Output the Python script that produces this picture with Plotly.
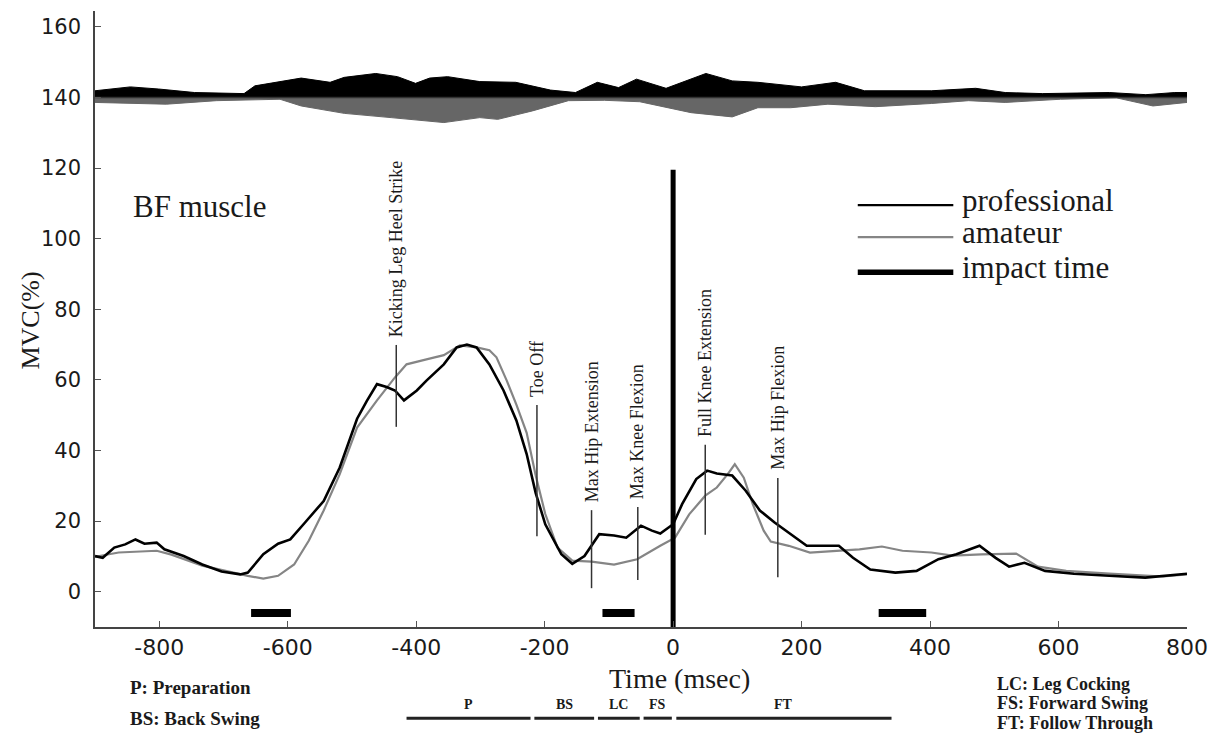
import plotly.graph_objects as go

# ---------------- data ----------------
TIME_PRO = [-900, -888, -870, -853, -837, -823, -804, -792, -762, -733,
            -703, -674, -662, -638, -615, -596, -573, -544, -519, -492,
            -477, -461, -446, -433, -419, -399, -384, -357, -337, -321,
            -306, -286, -264, -244, -228, -214, -199, -174, -157, -138,
            -115, -92, -73, -50, -33, -20, 0, 14, 36, 53,
            68, 92, 113, 135, 158, 180, 208, 236, 258, 280,
            307, 346, 379, 413, 441, 477, 502, 523, 547, 579,
            624, 679, 735, 800]
MVC_PRO = [10.1, 9.6, 12.5, 13.4, 14.8, 13.6, 13.9, 12.0, 10.1, 7.7,
           5.7, 4.9, 5.4, 10.6, 13.6, 14.8, 19.6, 25.7, 35.2, 49.0,
           54.0, 58.8, 58.0, 57.0, 54.2, 57.0, 59.8, 64.4, 69.2, 70.0,
           69.2, 64.4, 57.0, 48.5, 39.0, 28.0, 19.1, 10.6, 7.9, 10.1,
           16.3, 15.9, 15.3, 18.7, 17.3, 16.5, 19.1, 24.8, 31.9, 34.3,
           33.5, 32.9, 28.6, 23.0, 19.6, 16.7, 13.0, 13.0, 13.0, 9.6,
           6.3, 5.4, 5.9, 9.2, 10.6, 13.0, 9.6, 7.1, 8.2, 5.9,
           5.1, 4.5, 4.0, 5.1]

TIME_AM = [-900, -863, -804, -781, -733, -686, -662, -638, -615, -590,
           -567, -544, -519, -492, -461, -433, -415, -384, -357, -332,
           -306, -286, -275, -259, -244, -228, -214, -199, -180, -157,
           -127, -92, -56, -20, 3, 25, 50, 68, 85, 96,
           110, 124, 141, 152, 180, 213, 258, 290, 325, 357,
           402, 435, 480, 534, 568, 612, 679, 763, 800]
MVC_AM = [9.9, 11.1, 11.6, 10.5, 7.4, 5.4, 4.5, 3.7, 4.5, 7.7,
          14.5, 23.0, 33.3, 46.5, 54.2, 60.7, 64.4, 65.8, 67.0, 69.8,
          69.2, 68.4, 66.4, 59.8, 53.0, 45.0, 33.0, 22.0, 12.5, 8.8,
          8.5, 7.7, 9.2, 13.0, 15.3, 21.9, 27.2, 29.5, 33.3, 36.1,
          32.3, 24.8, 17.3, 14.2, 13.0, 11.1, 11.6, 12.0, 12.8, 11.6,
          11.1, 10.2, 10.6, 10.8, 7.1, 5.9, 5.1, 4.3, 4.9]

# band at the top (upper = black, lower = grey), around a base of 140
BAND_BASE = 140
BAND_UP_T = [-900, -845, -801, -745, -668, -651, -579, -534, -512, -463,
             -429, -401, -379, -351, -301, -245, -191, -152, -118, -85,
             -57, -11, 51, 92, 132, 200, 253, 298, 402, 471,
             517, 575, 679, 736, 781, 800]
BAND_UP = [141.9, 143.0, 142.4, 141.4, 141.1, 143.3, 145.5, 144.3, 145.7, 146.8,
           145.9, 144.0, 145.5, 145.9, 144.5, 144.3, 142.1, 141.4, 144.3, 142.8,
           145.2, 142.6, 146.8, 144.7, 144.3, 143.0, 144.3, 141.9, 141.9, 142.6,
           141.4, 141.1, 141.4, 140.8, 141.4, 141.4]
BAND_LO_T = [-900, -789, -711, -612, -579, -512, -439, -357, -301, -273,
             -219, -163, -107, -52, 28, 92, 132, 183, 241, 315,
             402, 460, 517, 603, 690, 747, 800]
BAND_LO = [138.6, 138.1, 139.1, 139.5, 137.6, 135.5, 134.3, 132.9, 134.3, 133.8,
           136.2, 139.1, 139.2, 138.8, 135.7, 134.5, 137.1, 137.1, 138.1, 137.4,
           138.3, 139.1, 138.6, 139.5, 139.9, 137.6, 138.6]

# gait events (vertical markers)
EVENT_NAMES = ["Kicking Leg Heel Strike", "Toe Off", "Max Hip Extension",
               "Max Knee Flexion", "Full Knee Extension", "Max Hip Flexion"]
EVENT_TIME = [-431, -212, -127, -55, 50, 163]
EVENT_TOP = [69.9, 52.9, 23.1, 24.0, 41.6, 32.2]
EVENT_BOTTOM = [46.7, 15.7, 1.0, 3.3, 16.1, 4.1]

IMPACT_TIME = 0
IMPACT_TOP = 119.5

# black bars near the x axis
BAR_LEVEL = -6
BAR_START = [-657, -110, 320]
BAR_END = [-595, -60, 394]

# phases below the axis
PHASE_NAMES = ["P", "BS", "LC", "FS", "FT"]
PHASE_START = [-415, -216, -117, -46, 5]
PHASE_END = [-222, -123, -52, -2, 340]

X_TICKS = [-800, -600, -400, -200, 0, 200, 400, 600, 800]
Y_TICKS = [0, 20, 40, 60, 80, 100, 120, 140, 160]
X_RANGE = [-900, 800]
Y_RANGE = [-10, 164.5]

SERIF = "Liberation Serif, Times New Roman, serif"
SANS = "DejaVu Sans, Arial, sans-serif"
INK = "#1a1a1a"

fig = go.Figure()

# ---- top band ----
fig.add_trace(go.Scatter(x=X_RANGE, y=[BAND_BASE, BAND_BASE], mode="lines",
                         line=dict(width=0, color="black"), hoverinfo="skip", showlegend=False))
fig.add_trace(go.Scatter(x=BAND_UP_T, y=BAND_UP, mode="lines", fill="tonexty",
                         fillcolor="black", line=dict(color="black", width=1),
                         hoverinfo="skip", showlegend=False))
fig.add_trace(go.Scatter(x=X_RANGE, y=[BAND_BASE, BAND_BASE], mode="lines",
                         line=dict(width=0, color="black"), hoverinfo="skip", showlegend=False))
fig.add_trace(go.Scatter(x=BAND_LO_T, y=BAND_LO, mode="lines", fill="tonexty",
                         fillcolor="#666666", line=dict(color="#666666", width=1),
                         hoverinfo="skip", showlegend=False))
fig.add_trace(go.Scatter(x=X_RANGE, y=[BAND_BASE, BAND_BASE], mode="lines",
                         line=dict(width=1.5, color="#333333"), hoverinfo="skip", showlegend=False))

# ---- EMG curves ----
fig.add_trace(go.Scatter(x=TIME_AM, y=MVC_AM, mode="lines", name="amateur",
                         line=dict(color="#858585", width=2.2), showlegend=False))
fig.add_trace(go.Scatter(x=TIME_PRO, y=MVC_PRO, mode="lines", name="professional",
                         line=dict(color="black", width=2.6), showlegend=False))

# ---- event markers ----
for name, t, top, bot in zip(EVENT_NAMES, EVENT_TIME, EVENT_TOP, EVENT_BOTTOM):
    fig.add_trace(go.Scatter(x=[t, t], y=[bot, top], mode="lines",
                             line=dict(color="#333333", width=1.5),
                             hoverinfo="skip", showlegend=False))
    fig.add_annotation(x=t, y=top, xref="x", yref="y", text=name, textangle=-90,
                       showarrow=False, xanchor="center", yanchor="bottom", yshift=6,
                       font=dict(family=SERIF, size=18, color=INK))

# ---- impact line ----
fig.add_trace(go.Scatter(x=[IMPACT_TIME, IMPACT_TIME], y=[Y_RANGE[0], IMPACT_TOP], mode="lines",
                         line=dict(color="black", width=5), hoverinfo="skip", showlegend=False))

# ---- black bars ----
for s, e in zip(BAR_START, BAR_END):
    fig.add_trace(go.Scatter(x=[s, e], y=[BAR_LEVEL, BAR_LEVEL], mode="lines",
                             line=dict(color="black", width=8), hoverinfo="skip", showlegend=False))

# ---- phases under the axis ----
for name, s, e in zip(PHASE_NAMES, PHASE_START, PHASE_END):
    fig.add_shape(type="line", xref="x", yref="paper", x0=s, x1=e, y0=-0.148, y1=-0.148,
                  line=dict(color="#222222", width=3))
    fig.add_annotation(x=(s + e) / 2, y=-0.126, xref="x", yref="paper", text="<b>%s</b>" % name,
                       showarrow=False, xanchor="center", yanchor="middle",
                       font=dict(family=SERIF, size=14, color=INK))

# ---- manual legend ----
legend_items = [("professional", "black", 2.2, 0.685, 0.693),
                ("amateur", "#858585", 2.2, 0.633, 0.640),
                ("impact time", "black", 5.5, 0.576, 0.584)]
for label, col, w, ly, ty in legend_items:
    fig.add_shape(type="line", xref="paper", yref="paper", x0=0.6985, x1=0.786, y0=ly, y1=ly,
                  line=dict(color=col, width=w))
    fig.add_annotation(x=0.7923, y=ty, xref="paper", yref="paper", text=label, showarrow=False,
                       xanchor="left", yanchor="middle", font=dict(family=SERIF, size=31, color=INK))

# ---- other texts ----
fig.add_annotation(x=0.0956, y=0.682, xref="paper", yref="paper", text="BF muscle", showarrow=False,
                   xanchor="center", yanchor="middle", font=dict(family=SERIF, size=31, color=INK))
fig.add_annotation(x=0.5355, y=-0.083, xref="paper", yref="paper", text="Time (msec)", showarrow=False,
                   xanchor="center", yanchor="middle", borderpad=0,
                   font=dict(family=SERIF, size=28, color=INK))
fig.add_annotation(x=-0.0592, y=0.498, xref="paper", yref="paper", text="MVC(%)", showarrow=False,
                   textangle=-90, xanchor="center", yanchor="middle",
                   font=dict(family=SERIF, size=26, color=INK))

notes = [("P: Preparation", 0.030, -0.099, 19), ("BS: Back Swing", 0.030, -0.148, 19),
         ("LC: Leg Cocking", 0.824, -0.0925, 18), ("FS: Forward Swing", 0.824, -0.123, 18),
         ("FT: Follow Through", 0.824, -0.156, 18)]
for txt, nx, ny, fs in notes:
    fig.add_annotation(x=nx, y=ny, xref="paper", yref="paper", text="<b>%s</b>" % txt, showarrow=False,
                       xanchor="left", yanchor="middle", font=dict(family=SERIF, size=fs, color=INK))

axis_common = dict(showgrid=False, zeroline=False, showline=True, linecolor="#444444", linewidth=1.5,
                   ticks="inside", ticklen=6, tickwidth=1.2, tickcolor="#555555", mirror=False)

fig.update_xaxes(range=X_RANGE, tickvals=X_TICKS, ticktext=[str(v) for v in X_TICKS],
                 tickfont=dict(family=SANS, size=22, color=INK), ticklabelstandoff=0, **axis_common)
fig.update_yaxes(range=Y_RANGE, tickvals=Y_TICKS, tickfont=dict(family=SANS, size=21, color=INK),
                 ticklabelstandoff=8, **axis_common)

fig.update_layout(width=1219, height=733, margin=dict(l=95, r=26, t=11, b=106),
                  paper_bgcolor="white", plot_bgcolor="white", showlegend=False)

fig.write_html("out.html", config={"displayModeBar": False},
               post_script="document.body.style.margin='0';document.body.style.overflow='hidden';")
